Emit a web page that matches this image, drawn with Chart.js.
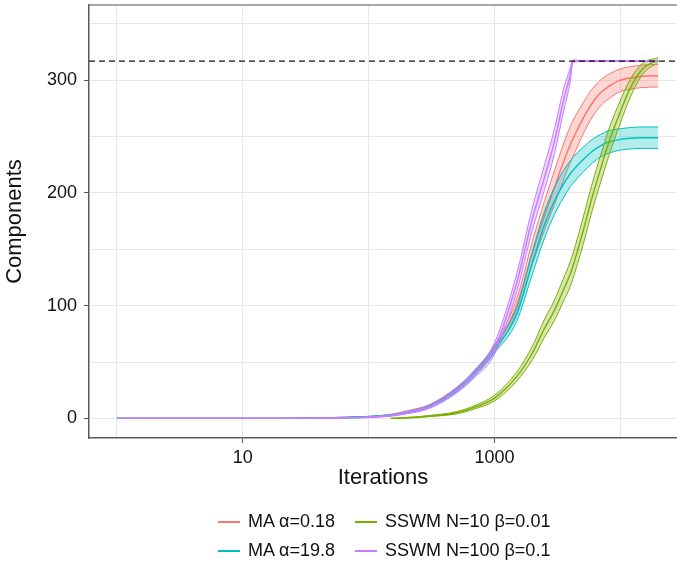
<!DOCTYPE html>
<html>
<head>
<meta charset="utf-8">
<script src="https://cdn.jsdelivr.net/npm/chart.js@4.4.1/dist/chart.umd.min.js"></script>
<style>
  body { margin: 0; background: #fff; }
  #wrap { position: relative; width: 677px; height: 561px; }
  #legend {
    position: absolute; left: 218px; top: 508px;
    display: grid; grid-template-columns: auto auto; column-gap: 20px; row-gap: 2px;
    font-family: "Liberation Sans", Arial, sans-serif; font-size: 18px; color: #111;
  }
  .item { display: flex; align-items: center; height: 27px; }
  .swatch { width: 22px; height: 2px; margin-right: 8px; }
</style>
</head>
<body>
<div id="wrap">
  <canvas id="chart" width="677" height="561"></canvas>
  <div id="legend"></div>
</div>
<script>
// iteration counts (x, log scale)
const iterations = [1, 2, 5, 10, 20, 50, 100, 150, 200, 300, 500, 700, 1000, 1500, 2000, 2500, 3000, 3500, 4000, 4200, 5000, 6000, 7000, 8000, 10000, 12000, 15000, 20000];

// MA alpha=0.18
const maLowMean  = [0, 0, 0, 0, 0, 0.5, 1.5, 3, 6, 11, 26, 41, 62, 100, 147, 180, 205, 226, 243, 248, 265, 280, 289, 294, 300, 302, 303.5, 304];
const maLowLower = [0, 0, 0, 0, 0, 0.3, 1.2, 2.5, 5.4, 10, 24.5, 39, 59, 94, 137, 167, 190, 210, 227, 232, 251, 267.5, 277.5, 283, 290, 292, 293.5, 294];
const maLowUpper = [0, 0, 0, 0, 0, 0.7, 1.8, 3.5, 6.6, 12, 27.5, 43, 65, 106, 157, 193, 220, 242, 259, 264, 279, 292.5, 300.5, 305, 310, 312, 313.5, 314];

// MA alpha=19.8
const maHighMean  = [0, 0, 0, 0, 0, 0.5, 1.5, 3, 5.5, 10.5, 25, 40, 61, 92, 138, 172, 193, 207, 217, 220, 229, 237, 242, 245, 247.5, 248.5, 249, 249];
const maHighLower = [0, 0, 0, 0, 0, 0.3, 1.2, 2.5, 4.9, 9.5, 23.5, 38, 58, 86, 128, 160, 181, 195, 205.5, 208.5, 218, 226.5, 232, 235, 238, 239, 239.5, 239.5];
const maHighUpper = [0, 0, 0, 0, 0, 0.7, 1.8, 3.5, 6.1, 11.5, 26.5, 42, 64, 98, 148, 184, 205, 219, 228.5, 231.5, 240, 247.5, 252, 255, 257, 258, 258.5, 258.5];

// SSWM N=10 beta=0.01
const sswm10Mean  = [null, null, null, null, null, null, null, 0, 0.5, 2, 5, 10, 18, 37, 58, 80, 96, 113, 128, 135, 164, 197, 222, 243, 272, 293, 310, 318];
const sswm10Lower = [null, null, null, null, null, null, null, 0, 0.2, 1.5, 4, 8.5, 15.5, 33, 52, 72, 87, 103, 117, 124, 152, 185, 210, 231, 262, 285, 305, 316];
const sswm10Upper = [null, null, null, null, null, null, null, 0, 0.8, 2.5, 6, 11.5, 20.5, 41, 64, 88, 105, 123, 139, 146, 176, 209, 234, 255, 282, 301, 315, 320];

// SSWM N=100 beta=0.1
const sswm100Mean  = [0, 0, 0, 0, 0, 0.3, 1, 2.5, 5, 10, 25, 40, 62, 120, 177, 214, 246, 280, 305, 317, 317, 317, 317, 317, 317, 317, 317, 317];
const sswm100Lower = [0, 0, 0, 0, 0, 0.2, 0.7, 1.9, 4, 8.5, 22.5, 36.5, 57, 112, 167, 203, 235, 270, 299, 316, 316.5, 316.5, 316.5, 316.5, 316.5, 316.5, 316.5, 316.5];
const sswm100Upper = [0, 0, 0, 0, 0, 0.4, 1.3, 3.1, 6, 11.5, 27.5, 43.5, 67, 128, 187, 225, 257, 290, 311, 318, 317.5, 317.5, 317.5, 317.5, 317.5, 317.5, 317.5, 317.5];

const optimum = 317;
const xGridTicks = [1, 10, 100, 1000, 10000];
const xLabelTicks = [10, 1000];
const yGridTicks = [0, 50, 100, 150, 200, 250, 300, 350];
const yLabelTicks = [0, 100, 200, 300];

// drawn top to bottom: first series ends up on top
const series = [
  { label: 'SSWM N=100 \u03b2=0.1', color: '#C77CFF', fillColor: 'rgba(199,124,255,0.3)', mean: sswm100Mean, lower: sswm100Lower, upper: sswm100Upper },
  { label: 'SSWM N=10 \u03b2=0.01', color: '#7CAE00', fillColor: 'rgba(124,174,0,0.3)', mean: sswm10Mean, lower: sswm10Lower, upper: sswm10Upper },
  { label: 'MA \u03b1=19.8', color: '#00BFC4', fillColor: 'rgba(0,191,196,0.3)', mean: maHighMean, lower: maHighLower, upper: maHighUpper },
  { label: 'MA \u03b1=0.18', color: '#F8766D', fillColor: 'rgba(248,118,109,0.3)', mean: maLowMean, lower: maLowLower, upper: maLowUpper }
];
const legendOrder = ['MA \u03b1=0.18', 'SSWM N=10 \u03b2=0.01', 'MA \u03b1=19.8', 'SSWM N=100 \u03b2=0.1'];

const pts = arr => iterations.map((x, i) => ({ x: x, y: arr[i] }));

const datasets = [];
series.forEach(s => {
  const base = { pointRadius: 0, cubicInterpolationMode: 'monotone', spanGaps: false, borderColor: s.color };
  datasets.push({ ...base, data: pts(s.mean), borderWidth: 1.4, fill: false });
  datasets.push({ ...base, data: pts(s.upper), borderWidth: 1, fill: '+1', backgroundColor: s.fillColor });
  datasets.push({ ...base, data: pts(s.lower), borderWidth: 1, fill: false });
});

const FONT = '"Liberation Sans", Arial, sans-serif';

const extras = {
  id: 'extras',
  afterDatasetsDraw(chart) {
    const { ctx, chartArea, scales } = chart;
    const y = scales.y.getPixelForValue(optimum);
    ctx.save();
    ctx.beginPath();
    ctx.rect(chartArea.left, chartArea.top, chartArea.width, chartArea.height);
    ctx.clip();
    ctx.strokeStyle = '#111';
    ctx.lineWidth = 1.2;
    ctx.setLineDash([6, 4]);
    ctx.beginPath();
    ctx.moveTo(chartArea.left, y);
    ctx.lineTo(chartArea.right, y);
    ctx.stroke();
    ctx.restore();
  },
  afterDraw(chart) {
    const { ctx, chartArea } = chart;
    ctx.save();
    ctx.strokeStyle = '#8a8a8a';
    ctx.lineWidth = 1.5;
    ctx.beginPath();
    ctx.moveTo(chartArea.left, chartArea.top);
    ctx.lineTo(chartArea.right, chartArea.top);
    ctx.stroke();
    ctx.restore();
  }
};

new Chart(document.getElementById('chart'), {
  type: 'line',
  data: { datasets: datasets },
  options: {
    responsive: false,
    animation: false,
    layout: { padding: { top: 5, right: 0, bottom: 70, left: 0 } },
    plugins: { legend: { display: false }, tooltip: { enabled: false } },
    scales: {
      x: {
        type: 'logarithmic',
        min: 0.61,
        max: 28200,
        afterBuildTicks: scale => { scale.ticks = xGridTicks.map(v => ({ value: v })); },
        afterFit: scale => { scale.height = 53; scale.paddingLeft = 0; scale.paddingRight = 0; },
        ticks: {
          autoSkip: false, maxRotation: 0, padding: 4, color: '#111',
          font: { family: FONT, size: 18 },
          callback: v => xLabelTicks.includes(v) ? String(v) : ''
        },
        grid: {
          color: '#e8e8e8', lineWidth: 1, tickLength: 5,
          tickColor: c => (c.tick && xLabelTicks.includes(c.tick.value)) ? '#555' : 'rgba(0,0,0,0)'
        },
        border: { color: '#5a5a5a', width: 1.5 },
        title: { display: true, text: 'Iterations', color: '#111', font: { family: FONT, size: 22 }, padding: { top: 0, bottom: 0 } }
      },
      y: {
        min: -17.4,
        max: 366.7,
        afterBuildTicks: scale => { scale.ticks = yGridTicks.map(v => ({ value: v })); },
        afterFit: scale => { scale.width = 89; scale.paddingTop = 0; scale.paddingBottom = 0; },
        ticks: {
          padding: 7, color: '#111',
          font: { family: FONT, size: 18 },
          callback: v => yLabelTicks.includes(v) ? String(v) : ''
        },
        grid: {
          color: '#e8e8e8', lineWidth: 1, tickLength: 5,
          tickColor: c => (c.tick && yLabelTicks.includes(c.tick.value)) ? '#555' : 'rgba(0,0,0,0)'
        },
        border: { color: '#5a5a5a', width: 1.5 },
        title: { display: true, text: 'Components', color: '#111', font: { family: FONT, size: 22 }, padding: { top: 2, bottom: 2 } }
      }
    }
  },
  plugins: [extras]
});

// legend below the plot, two columns like the original
const legendEl = document.getElementById('legend');
legendOrder.forEach(name => {
  const s = series.find(d => d.label === name);
  const item = document.createElement('div');
  item.className = 'item';
  const sw = document.createElement('span');
  sw.className = 'swatch';
  sw.style.background = s.color;
  const txt = document.createElement('span');
  txt.textContent = s.label;
  item.appendChild(sw);
  item.appendChild(txt);
  legendEl.appendChild(item);
});
</script>
</body>
</html>
